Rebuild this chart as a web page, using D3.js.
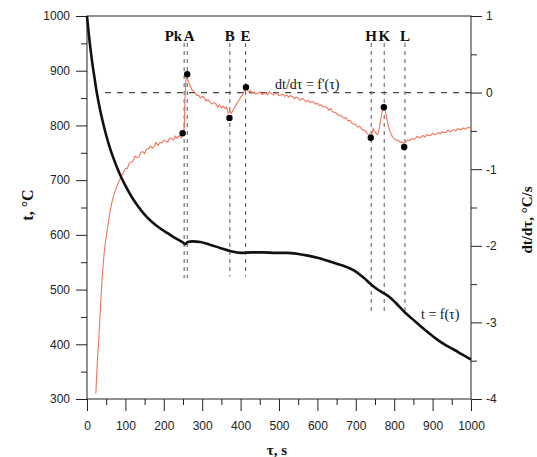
<html>

<head>
  <script src="https://d3js.org/d3.v7.min.js"></script>
  <style>
    body {
      margin: 0;
      background: #fff;
    }

    .tick text {
      font-family: "Liberation Sans", Arial, sans-serif;
      font-size: 12px;
      fill: #222;
    }

    .tick line {
      stroke: #222;
    }

    .domain {
      stroke: none;
    }

    .serif {
      font-family: "Liberation Serif", "Times New Roman", serif;
      fill: #111;
    }
  </style>
</head>

<body>
  <svg id="chart" width="537" height="457"></svg>

  <script>
    // cooling curve t = f(tau)
    const tauT = [0, 5, 10, 15, 20, 25, 30, 40, 50, 60, 70, 80, 90, 100, 115, 130, 150, 170, 190, 210, 230, 250, 256,
      262, 275, 295, 320, 347, 375, 400, 430, 460, 490, 521, 550, 575, 600, 634, 661, 695, 720, 739, 755, 769, 787,
      805, 828, 848, 869, 891, 913, 935, 956, 978, 1000];
    const tempT = [1000, 965, 935, 908, 885, 862, 843, 810, 782, 758, 738, 720, 704, 690, 671, 655, 637, 623, 612, 603,
      594, 586, 583, 587, 588, 587, 582, 576, 570, 567, 568, 568, 567, 567, 565, 562, 558, 551, 545, 535, 522, 510,
      501, 495, 487, 475, 458, 446, 433, 420, 408, 398, 390, 381, 372];

    // derivative curve dt/dtau = f'(tau), [tau, rate]
    const derivPoints = [
      [23, -3.93], [25, -3.72], [27, -3.5], [30, -3.28], [33, -3.0], [36, -2.72], [39, -2.45], [42, -2.25],
      [45, -2.08], [48, -1.95], [52, -1.82], [56, -1.68], [60, -1.55], [65, -1.43], [70, -1.33], [76, -1.25],
      [82, -1.17], [88, -1.11], [94, -1.05],
      [100, -0.99], [105, -0.99], [110, -0.92], [115, -0.91], [120, -0.895], [125, -0.83], [130, -0.85],
      [135, -0.84], [140, -0.78], [145, -0.77], [150, -0.795], [155, -0.74], [160, -0.735], [165, -0.70],
      [170, -0.725], [175, -0.70], [180, -0.65], [185, -0.69], [190, -0.65], [195, -0.66], [200, -0.62],
      [205, -0.63], [210, -0.65], [215, -0.595], [220, -0.595], [225, -0.62], [230, -0.57], [235, -0.595],
      [240, -0.565], [245, -0.59], [249, -0.555], [252, -0.53],
      [254, -0.35], [255, -0.1], [257, 0.12], [259, 0.24], [262, 0.17], [266, 0.12], [270, 0.07], [274, 0.03],
      [278, 0.02], [282, -0.01], [286, -0.04], [290, -0.03], [295, -0.07], [300, -0.05], [305, -0.06],
      [310, -0.11], [315, -0.09], [320, -0.12], [325, -0.15], [330, -0.13], [335, -0.14], [340, -0.19],
      [345, -0.16], [350, -0.20], [355, -0.18], [360, -0.21], [364, -0.19],
      [368, -0.27], [372, -0.24], [376, -0.27], [380, -0.23], [384, -0.2], [388, -0.16], [392, -0.13],
      [396, -0.1], [400, -0.06], [404, -0.04], [408, 0.0], [411, 0.04], [414, 0.07], [418, 0.03], [422, 0.01],
      [426, 0.03],
      [430, -0.01], [435, 0.01], [440, -0.02], [445, -0.01], [450, 0.01], [455, -0.02], [460, -0.02],
      [465, 0.0], [470, -0.03], [475, 0.01], [480, -0.01], [485, -0.03], [490, -0.02], [495, 0.0],
      [500, -0.04], [505, -0.03], [510, -0.02], [515, -0.05], [520, -0.03], [525, -0.06], [530, -0.04],
      [535, -0.05], [540, -0.08], [545, -0.06], [550, -0.07], [555, -0.10], [560, -0.08], [565, -0.09],
      [570, -0.12], [575, -0.10], [580, -0.13], [585, -0.12], [590, -0.12], [595, -0.15], [600, -0.14],
      [605, -0.17], [610, -0.16], [615, -0.19], [620, -0.18], [625, -0.20], [630, -0.23], [635, -0.21],
      [640, -0.25], [645, -0.26], [650, -0.27], [655, -0.30], [660, -0.29], [665, -0.32], [670, -0.33],
      [675, -0.33], [680, -0.37], [685, -0.36], [690, -0.40], [695, -0.41], [700, -0.42], [705, -0.45],
      [710, -0.44], [715, -0.48], [720, -0.49], [725, -0.50], [730, -0.54], [735, -0.54], [739, -0.57],
      [742, -0.54], [745, -0.47], [748, -0.5], [752, -0.53], [756, -0.55], [760, -0.5], [764, -0.38],
      [768, -0.26], [771, -0.2], [774, -0.19], [777, -0.24], [780, -0.32], [784, -0.42], [788, -0.49],
      [792, -0.54], [796, -0.58], [800, -0.6], [805, -0.62], [810, -0.63], [815, -0.64], [820, -0.65],
      [826, -0.66], [830, -0.64], [835, -0.62], [840, -0.63], [845, -0.60], [850, -0.61], [855, -0.60],
      [860, -0.57], [865, -0.59], [870, -0.58], [875, -0.56], [880, -0.58], [885, -0.55], [890, -0.56],
      [895, -0.56], [900, -0.53], [905, -0.55], [910, -0.54], [915, -0.52], [920, -0.54], [925, -0.51],
      [930, -0.52], [935, -0.52], [940, -0.49], [945, -0.51], [950, -0.50], [955, -0.48], [960, -0.50],
      [965, -0.47], [970, -0.48], [975, -0.48], [980, -0.46], [985, -0.48], [990, -0.46], [995, -0.45],
      [1000, -0.47]
    ];

    // characteristic points
    const eventNames = ["Pk", "A", "B", "E", "H", "K", "L"];
    const eventTau = [253, 261, 372, 413, 740, 774, 828];
    const eventDotTau = [249, 261, 371, 414, 739, 773, 826];
    const eventDotRate = [-0.53, 0.24, -0.33, 0.07, -0.59, -0.19, -0.71];
    const eventLineEnd = [521, 521, 524, 524, 460, 460, 454];

    const xTicks = d3.range(0, 1001, 100);
    const leftTicks = d3.range(300, 1001, 100);
    const rightTicks = [-4, -3, -2, -1, 0, 1];

    const svg = d3.select("svg#chart");
    const margin = { top: 16, right: 66, bottom: 58, left: 87 };
    const width = +svg.attr("width");
    const height = +svg.attr("height");

    const xScale = d3.scaleLinear().domain([0, 1000]).range([margin.left, width - margin.right]);
    const yTemp = d3.scaleLinear().domain([300, 1000]).range([height - margin.bottom, margin.top]);
    const yRate = d3.scaleLinear().domain([-4, 1]).range([height - margin.bottom, margin.top]);

    const x0 = xScale(0), x1 = xScale(1000), yBot = yTemp(300), yTop = yTemp(1000);
    const plain = d => String(d);

    // axes: major + minor ticks
    svg.append("g")
      .attr("transform", `translate(${x0},0)`)
      .call(d3.axisLeft(yTemp).tickValues(leftTicks).tickSize(11).tickPadding(6).tickFormat(plain));
    svg.append("g")
      .attr("transform", `translate(${x0},0)`)
      .call(d3.axisLeft(yTemp).tickValues(d3.range(350, 1000, 100)).tickSize(6).tickFormat(""));

    svg.append("g")
      .attr("transform", `translate(0,${yBot})`)
      .call(d3.axisBottom(xScale).tickValues(xTicks).tickSize(12).tickPadding(10).tickFormat(plain));
    svg.append("g")
      .attr("transform", `translate(0,${yBot})`)
      .call(d3.axisBottom(xScale).tickValues(d3.range(50, 1000, 100)).tickSize(6).tickFormat(""));

    svg.append("g")
      .attr("transform", `translate(${x1},0)`)
      .call(d3.axisRight(yRate).tickValues(rightTicks).tickSize(11).tickPadding(4).tickFormat(plain));
    svg.append("g")
      .attr("transform", `translate(${x1},0)`)
      .call(d3.axisRight(yRate).tickValues([-3.5, -2.5, -1.5, -0.5, 0.5]).tickSize(6).tickFormat(""));

    // frame
    svg.append("rect")
      .attr("x", x0).attr("y", yTop)
      .attr("width", x1 - x0).attr("height", yBot - yTop)
      .attr("fill", "none").attr("stroke", "#222").attr("stroke-width", 1);

    // zero-rate dashed line
    svg.append("line")
      .attr("x1", xScale(47)).attr("x2", x1)
      .attr("y1", yRate(0)).attr("y2", yRate(0))
      .attr("stroke", "#444").attr("stroke-width", 1.1)
      .attr("stroke-dasharray", "6,6");

    // vertical dashed lines at characteristic points
    const events = eventNames.map((name, i) => ({
      name, tau: eventTau[i], dotTau: eventDotTau[i], rate: eventDotRate[i], end: eventLineEnd[i]
    }));

    svg.selectAll(".vline")
      .data(events)
      .enter().append("line")
      .attr("class", "vline")
      .attr("x1", d => xScale(d.tau)).attr("x2", d => xScale(d.tau))
      .attr("y1", 43).attr("y2", d => yTemp(d.end))
      .attr("stroke", "#555").attr("stroke-width", 1)
      .attr("stroke-dasharray", "4,4");

    svg.selectAll(".evlabel")
      .data(events)
      .enter().append("text")
      .attr("class", "serif")
      .attr("x", d => d.name === "Pk" ? xScale(d.tau) - 2 : xScale(d.tau) + (d.name === "A" ? 2 : 0))
      .attr("y", 41)
      .attr("text-anchor", d => d.name === "Pk" ? "end" : "middle")
      .style("font-size", "15px")
      .style("font-weight", "bold")
      .text(d => d.name);

    // derivative curve
    const rateLine = d3.line()
      .x(d => xScale(d[0]))
      .y(d => yRate(d[1]));
    svg.append("path")
      .datum(derivPoints)
      .attr("d", rateLine)
      .attr("fill", "none")
      .attr("stroke", "#f2745a")
      .attr("stroke-width", 1.1);

    // temperature curve
    const tempLine = d3.line()
      .x((d, i) => xScale(tauT[i]))
      .y(d => yTemp(d))
      .curve(d3.curveMonotoneX);
    svg.append("path")
      .datum(tempT)
      .attr("d", tempLine)
      .attr("fill", "none")
      .attr("stroke", "#111")
      .attr("stroke-width", 2.6);

    // dots
    svg.selectAll(".dot")
      .data(events)
      .enter().append("circle")
      .attr("cx", d => xScale(d.dotTau))
      .attr("cy", d => yRate(d.rate))
      .attr("r", 3.2)
      .attr("fill", "#000");

    // curve labels
    svg.append("text").attr("class", "serif")
      .attr("x", 275).attr("y", 89)
      .style("font-size", "14px")
      .text("dt/dτ = f'(τ)");
    svg.append("text").attr("class", "serif")
      .attr("x", 421).attr("y", 319)
      .style("font-size", "14px")
      .text("t = f(τ)");

    // axis titles
    svg.append("text").attr("class", "serif")
      .attr("transform", `translate(33,205) rotate(-90)`)
      .attr("text-anchor", "middle")
      .style("font-size", "16px").style("font-weight", "bold")
      .text("t, °C");
    svg.append("text").attr("class", "serif")
      .attr("transform", `translate(532,220) rotate(-90)`)
      .attr("text-anchor", "middle")
      .style("font-size", "15px").style("font-weight", "bold")
      .text("dt/dτ, °C/s");
    svg.append("text").attr("class", "serif")
      .attr("x", 277).attr("y", 455)
      .attr("text-anchor", "middle")
      .style("font-size", "15px").style("font-weight", "bold")
      .text("τ, s");
  </script>

</body>

</html>
